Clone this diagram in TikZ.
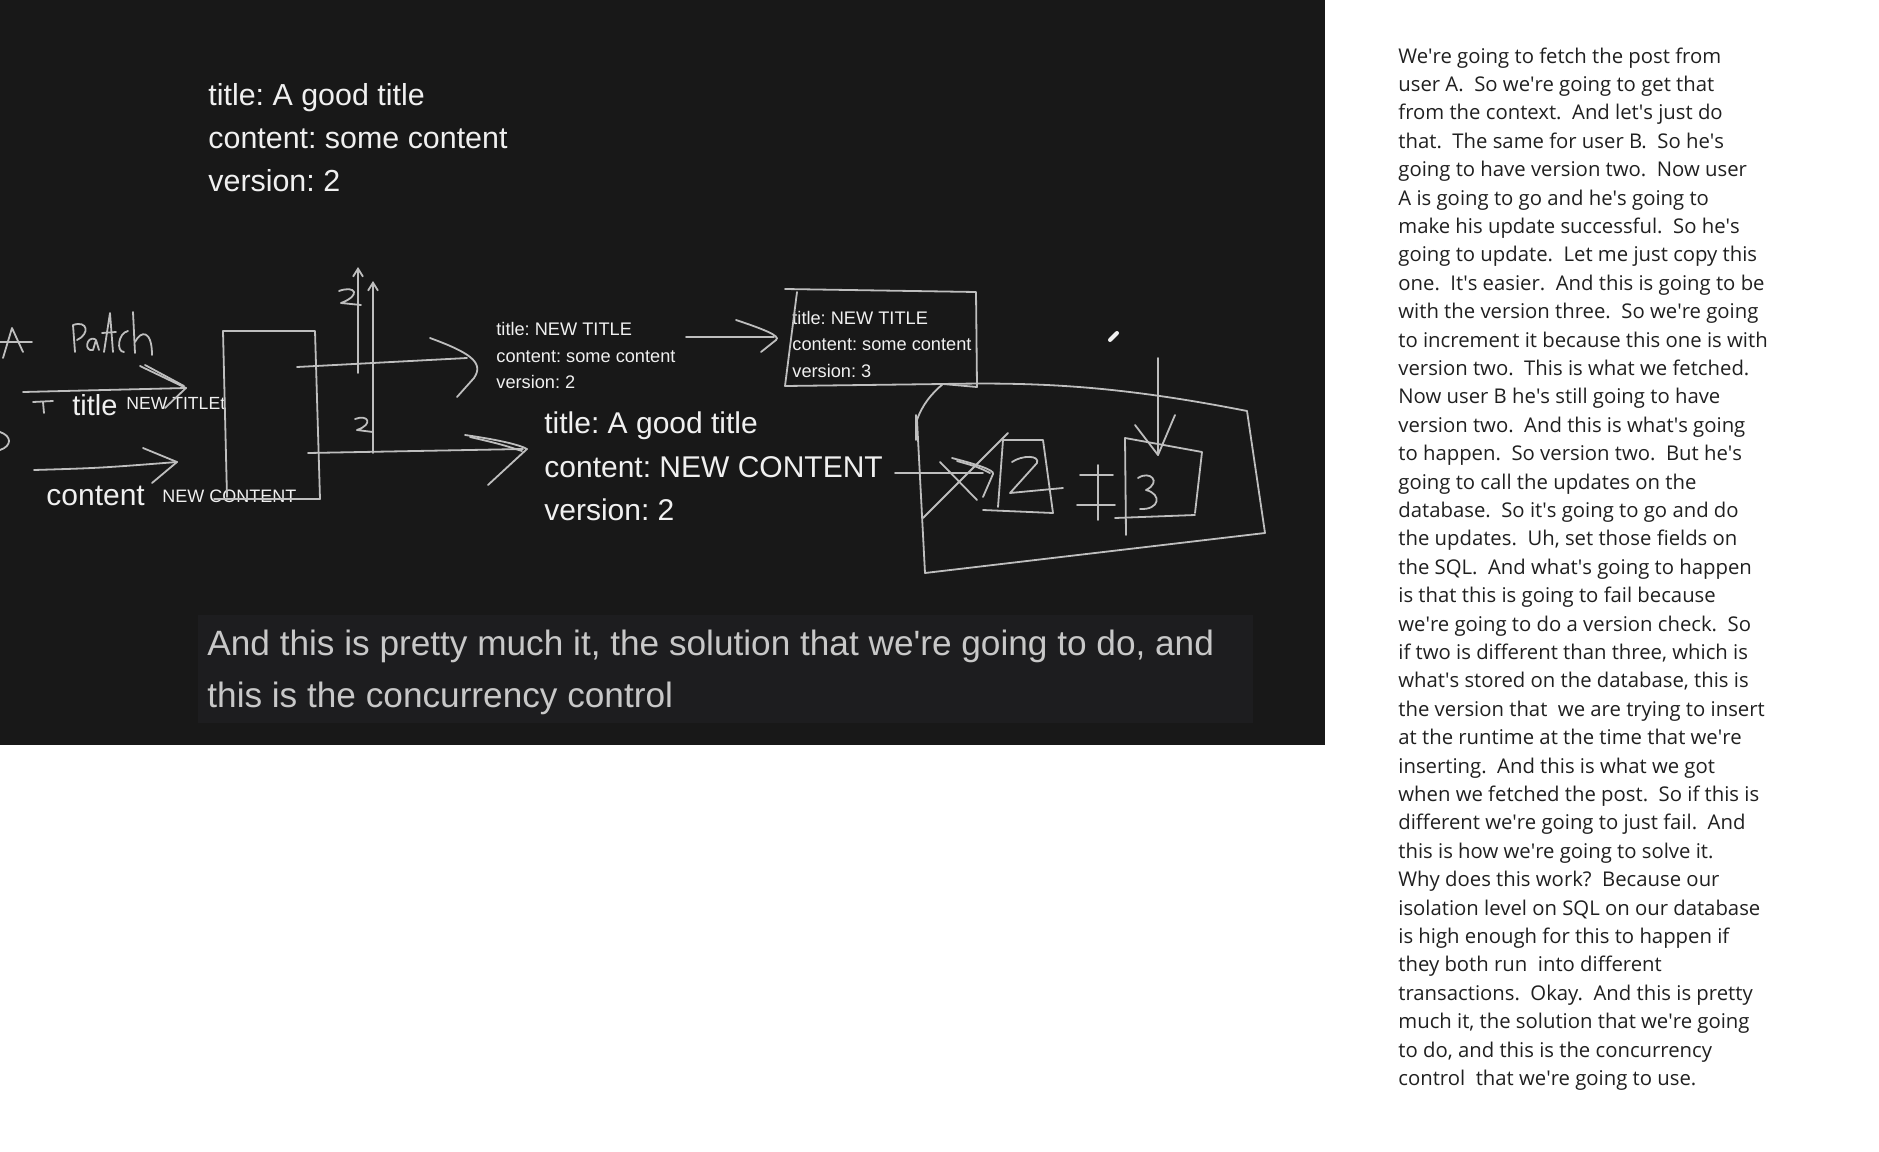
\documentclass[tikz,border=0pt]{standalone}
\usepackage{fontspec}
\setmainfont{Liberation Sans}
\newfontfamily\trfont{Open Sans}
\usetikzlibrary{arrows.meta}

\definecolor{board}{HTML}{181818}
\definecolor{capbox}{HTML}{1D1D1F}
\definecolor{pen}{HTML}{BEBEBE}
\definecolor{ink}{HTML}{F0F0F0}
\definecolor{capfg}{HTML}{C8C8C8}
\definecolor{trfg}{HTML}{202020}

\newcommand{\ap}{\textquotesingle}
\newcommand{\trset}{\trfont\fontsize{10.15pt}{14pt}\selectfont\xspaceskip=2\fontdimen2\font\relax}
\newcommand{\boardsize}[1]{\frenchspacing\fontsize{#1}{1.2\dimexpr#1\relax}\selectfont}

\begin{document}
\begin{tikzpicture}[x=0.5pt,y=-0.5pt,
    chalk/.style={draw=pen,line width=0.9pt,line cap=round,line join=round},
    uptip/.style={-{Straight Barb[length=4pt,width=5pt]}},
    bigtext/.style={anchor=base west,inner sep=0pt,text=ink,font=\boardsize{15.2pt}},
    smalltext/.style={anchor=base west,inner sep=0pt,text=ink,font=\boardsize{9.1pt}},
    captext/.style={anchor=base west,inner sep=0pt,text=capfg,font=\boardsize{17.6pt}},
    trtext/.style={anchor=base west,inner sep=0pt,text=trfg,font=\trset}]

    \useasboundingbox (0,0) rectangle (1879,1151);
    \fill[white] (0,0) rectangle (1879,1151);

    % video frame
    \fill[board] (0,0) rectangle (1325,745);
    \fill[capbox] (198,615) rectangle (1253,723);

    % fetched post
    \node[bigtext] (post1) at (208,105) {title: A good title};
    \node[bigtext] (post2) at (208,148) {content: some content};
    \node[bigtext] (post3) at (208,191) {version: 2};

    % "A  Patch" scribble
    \draw[chalk] (3,358) -- (12,328) -- (23,352);
    \draw[chalk] (0,342) -- (32,342);
    \draw[chalk] (75,352) -- (73,325) .. controls (88,320) and (90,334) .. (77,340);
    \draw[chalk] (95,339) .. controls (86,336) and (84,352) .. (93,350) -- (96,340) -- (99,350);
    \draw[chalk] (104,352) -- (110,313) -- (113,352);
    \draw[chalk] (102,333) -- (116,332);
    \draw[chalk] (128,331) .. controls (118,333) and (116,352) .. (124,352);
    \draw[chalk] (133,312) -- (135,353);
    \draw[chalk] (135,342) .. controls (141,330) and (152,330) .. (152,355);
    \draw[chalk] (0,432) .. controls (12,436) and (12,446) .. (0,450);

    % patch body
    \draw[chalk] (33,402) -- (53,401);
    \draw[chalk] (43,402) -- (44,413);
    \node[bigtext,font=\boardsize{14.5pt}] (ftitle) at (72,415) {title};
    \node[smalltext,font=\boardsize{8.8pt}] (vtitle) at (126,409) {NEW TITLEt};
    \node[bigtext,font=\boardsize{15pt}] (fcontent) at (46,505) {content};
    \node[smalltext,font=\boardsize{9pt}] (vcontent) at (162,502) {NEW CONTENT};

    \coordinate (inA) at (186,388);
    \draw[chalk] (23,392) -- (inA);
    \draw[chalk] (140,366) -- (inA) -- (165,408);
    \draw[chalk] (145,365) -- (184,386);
    \coordinate (inB) at (177,462);
    \draw[chalk] (34,470) .. controls (100,468) .. (inB);
    \draw[chalk] (143,448) -- (inB) -- (152,483);

    % handler
    \draw[chalk] (223,331) -- (315,331) -- (320,499) -- (214,499);
    \draw[chalk] (223,331) -- (227,497);

    \coordinate (outA) at (467,358);
    \draw[chalk] (297,367) -- (outA);
    \draw[chalk] (430,338) .. controls (468,352) and (485,362) .. (474,378) -- (457,397);
    \coordinate (outB) at (523,449);
    \draw[chalk] (308,453) -- (outB);
    \draw[chalk] (465,435) .. controls (500,440) and (520,445) .. (527,449) -- (488,485);
    \draw[chalk] (470,437) .. controls (500,444) .. (522,451);

    % versions read by A and B
    \draw[chalk,uptip] (358,373) -- (358,267);
    \draw[chalk,uptip] (373,453) -- (373,281);
    \draw[chalk] (339,291) .. controls (355,285) and (362,295) .. (341,303) -- (361,305);
    \draw[chalk] (355,419) .. controls (368,414) and (374,424) .. (357,430) -- (373,432);

    % user A result
    \node[smalltext] (ua1) at (496,335) {title: NEW TITLE};
    \node[smalltext] (ua2) at (496,362) {content: some content};
    \node[smalltext] (ua3) at (496,388) {version: 2};

    \coordinate (toDb) at (776,340);
    \draw[chalk] (686,337) -- (774,337);
    \draw[chalk] (736,320) .. controls (760,328) and (782,336) .. (toDb) -- (761,352);

    % stored row
    \node[smalltext] (db1) at (792,324) {title: NEW TITLE};
    \node[smalltext] (db2) at (792,350) {content: some content};
    \node[smalltext] (db3) at (792,377) {version: 3};
    \draw[chalk] (785,289) -- (976,292) -- (977,387) -- (943,384);
    \draw[chalk] (785,386) -- (797,292);

    % user B result
    \node[bigtext,font=\boardsize{15pt}] (ub1) at (544,433) {title: A good title};
    \node[bigtext,font=\boardsize{15pt}] (ub2) at (544,477) {content: NEW CONTENT};
    \node[bigtext,font=\boardsize{15pt}] (ub3) at (544,520) {version: 2};

    % database
    \draw[chalk] (785,386) -- (943,384) .. controls (1040,382) and (1120,386) .. (1247,411)
        -- (1265,533) -- (925,573) -- (917,420) .. controls (922,405) and (932,393) .. (943,384);
    \draw[chalk] (916,415) -- (916,440);

    % version check
    \coordinate (chk2) at (993,474);
    \draw[chalk] (895,473) -- (983,473);
    \draw[chalk] (952,458) .. controls (975,464) and (995,470) .. (chk2) -- (983,497);
    \draw[chalk] (957,461) .. controls (978,467) .. (990,473);
    \draw[chalk] (940,462) -- (977,500);
    \draw[chalk] (923,518) -- (1008,433);
    \draw[chalk] (998,507) -- (1003,440) -- (1043,440) -- (1053,513) -- (983,510);
    \draw[chalk] (1012,462) .. controls (1022,455) and (1040,455) .. (1037,463) -- (1010,493) -- (1063,488);
    \draw[chalk] (1098,465) -- (1098,520);
    \draw[chalk] (1080,475) -- (1113,475);
    \draw[chalk] (1077,505) -- (1115,505);
    \draw[chalk] (1126,535) -- (1125,438) -- (1202,452) -- (1195,513);
    \draw[chalk] (1115,518) -- (1195,515);
    \draw[chalk] (1138,478) .. controls (1150,470) and (1162,482) .. (1146,490)
        .. controls (1162,494) and (1160,510) .. (1140,509);
    \coordinate (chk3) at (1158,455);
    \draw[chalk] (1158,358) -- (chk3);
    \draw[chalk] (1135,425) -- (chk3) -- (1175,415);
    \draw[ink,line width=2pt,line cap=round] (1110,340) -- (1117,333);

    % caption
    \node[captext] (cap1) at (207,655) {And this is pretty much it, the solution that we\ap re going to do, and};
    \node[captext] (cap2) at (207,707) {this is the concurrency control};

    % transcript
    \foreach \ln [count=\i] in {
        {We\ap re going to fetch the post from},
        {user A\@. So we\ap re going to get that},
        {from the context. And let\ap s just do},
        {that. The same for user B\@. So he\ap s},
        {going to have version two. Now user},
        {A is going to go and he\ap s going to},
        {make his update successful. So he\ap s},
        {going to update. Let me just copy this},
        {one. It\ap s easier. And this is going to be},
        {with the version three. So we\ap re going},
        {to increment it because this one is with},
        {version two. This is what we fetched.},
        {Now user B he\ap s still going to have},
        {version two. And this is what\ap s going},
        {to happen. So version two. But he\ap s},
        {going to call the updates on the},
        {database. So it\ap s going to go and do},
        {the updates. Uh, set those fields on},
        {the SQL\@. And what\ap s going to happen},
        {is that this is going to fail because},
        {we\ap re going to do a version check. So},
        {if two is different than three, which is},
        {what\ap s stored on the database, this is},
        {the version that\ \ we are trying to insert},
        {at the runtime at the time that we\ap re},
        {inserting. And this is what we got},
        {when we fetched the post. So if this is},
        {different we\ap re going to just fail. And},
        {this is how we\ap re going to solve it.},
        {Why does this work? Because our},
        {isolation level on SQL on our database},
        {is high enough for this to happen if},
        {they both run\ \ into different},
        {transactions. Okay. And this is pretty},
        {much it, the solution that we\ap re going},
        {to do, and this is the concurrency},
        {control\ \ that we\ap re going to use.}}
      \node[trtext] (tr\i) at (1398,{63+28.4*(\i-1)}) {\ln};
\end{tikzpicture}
\end{document}
